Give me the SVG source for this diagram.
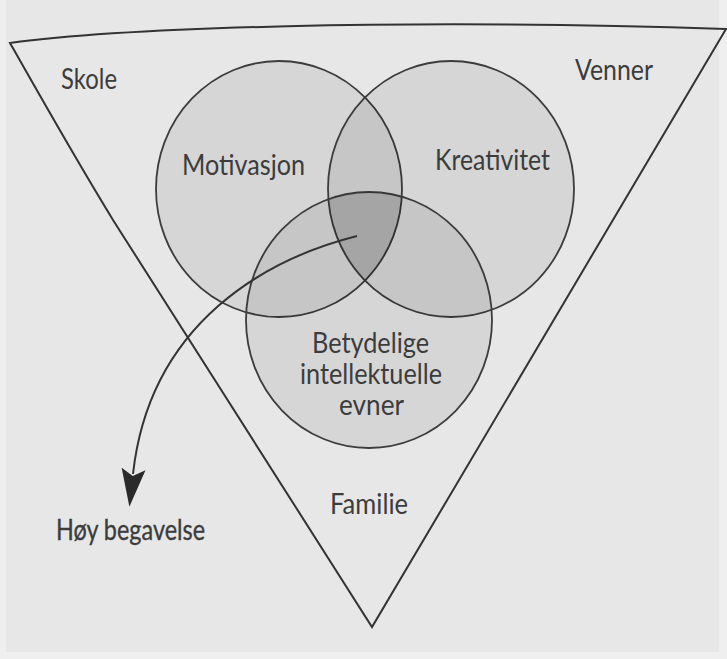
<svg xmlns="http://www.w3.org/2000/svg" width="727" height="659" viewBox="0 0 727 659">
<style>
.bg{fill:#e7e7e7}
.edge{fill:#efefef}
.frame{fill:none;stroke:#333;stroke-width:2;stroke-linejoin:miter}
.circ{fill:#000;fill-opacity:0.07;stroke:#3c3c3c;stroke-width:1.8}
.core{fill:#000;fill-opacity:0.1;stroke:none}
.lbl{font-family:Lato,"Open Sans","Liberation Sans",sans-serif;font-size:28px;fill:#3c3c3c}
.out{stroke:#3c3c3c;stroke-width:0.35}
.conn{fill:none;stroke:#333;stroke-width:2}
</style>
<defs>
<marker id="head" markerUnits="userSpaceOnUse" markerWidth="40" markerHeight="26" viewBox="0 -13 40 26" refX="5" refY="0" orient="auto">
<path d="M0,-12 L38,0 L0,12 L7,0 Z" fill="#2a2a2a"/>
</marker>
</defs>
<rect class="bg" x="0" y="0" width="727" height="659"/>
<rect class="edge" x="719" y="0" width="8" height="659"/>
<rect class="edge" x="0" y="652" width="727" height="7"/>
<rect class="edge" x="0" y="0" width="6" height="659"/>
<g id="frame">
<path class="frame" d="M10,43 C120,28 400,18 726,29 L372,627 L113,220 C75,158 40,96 10,43 Z"/>
</g>
<g id="skole"><text class="lbl" x="61" y="89" textLength="56" lengthAdjust="spacingAndGlyphs">Skole</text></g>
<g id="venner"><text class="lbl" x="575" y="80" textLength="78" lengthAdjust="spacingAndGlyphs">Venner</text></g>
<g id="familie"><text class="lbl" x="330" y="514" textLength="78" lengthAdjust="spacingAndGlyphs">Familie</text></g>
<g id="motivasjon">
<ellipse class="circ" cx="279" cy="189" rx="123" ry="128"/>
</g>
<g id="kreativitet">
<ellipse class="circ" cx="451" cy="189" rx="123" ry="128"/>
</g>
<g id="evner">
<ellipse class="circ" cx="369" cy="320" rx="123" ry="128"/>
</g>
<g id="core">
<path class="core" d="M328.4,199.2 A123,128 0 0 1 401.8,196.6 A123,128 0 0 1 365,280.5 A123,128 0 0 1 328.4,199.2 Z"/>
</g>
<g id="labels">
<text class="lbl" x="182" y="175" textLength="123" lengthAdjust="spacingAndGlyphs">Motivasjon</text>
<text class="lbl" x="435" y="170" textLength="115" lengthAdjust="spacingAndGlyphs">Kreativitet</text>
<text class="lbl" x="312" y="353" textLength="117" lengthAdjust="spacingAndGlyphs">Betydelige</text>
<text class="lbl" x="300" y="384" textLength="142" lengthAdjust="spacingAndGlyphs">intellektuelle</text>
<text class="lbl" x="339" y="415" textLength="65" lengthAdjust="spacingAndGlyphs">evner</text>
</g>
<g id="connectors">
<path class="conn" d="M357,236 C270,258 150,320 133,474" marker-end="url(#head)"/>
</g>
<g id="hoy-begavelse">
<text class="lbl out" x="56" y="540" textLength="149" lengthAdjust="spacingAndGlyphs">Høy begavelse</text>
</g>
</svg>
